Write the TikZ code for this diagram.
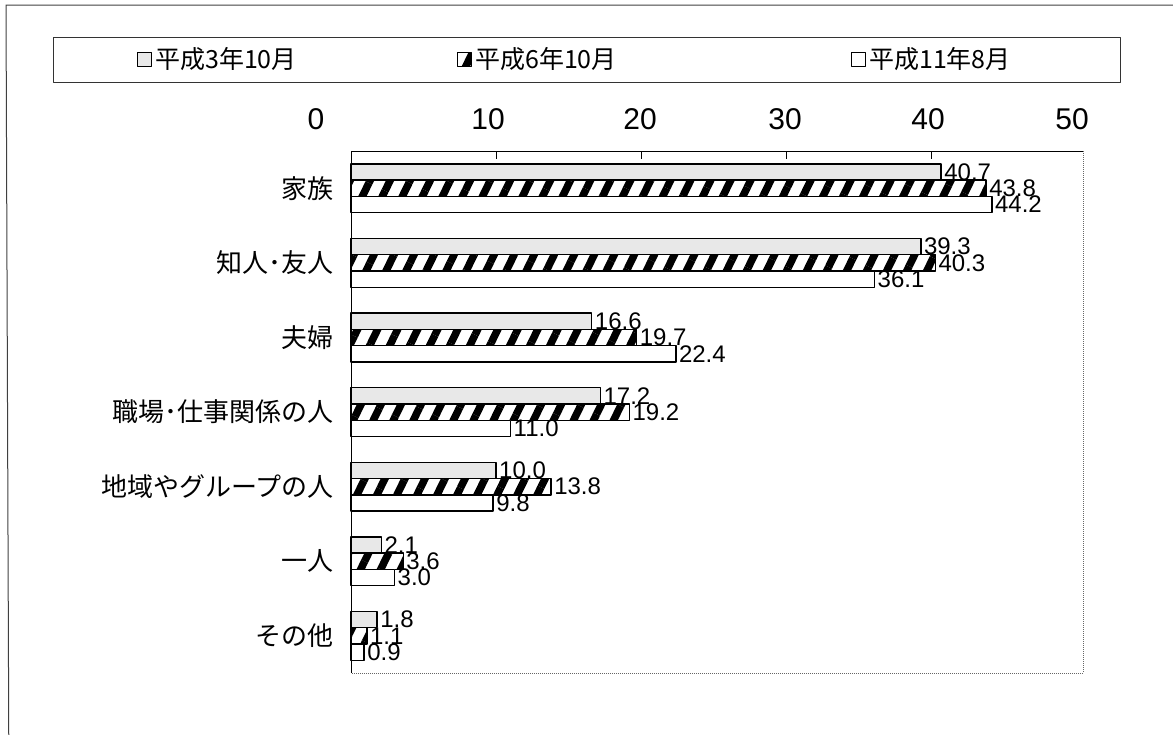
\documentclass[tikz,border=0pt]{standalone}
\usepackage{fontspec}
\setmainfont{Liberation Sans}
\newfontfamily\jpfont{Noto Sans CJK JP}
\usetikzlibrary{patterns.meta}

\tikzset{
  bargray/.style={draw=black, line width=1.4pt, fill=black!9},
  barhatch/.style={draw=black, line width=1.4pt, fill=white,
    postaction={pattern={Lines[angle=64,distance=18pt,line width=7.5pt]}}},
  barwhite/.style={draw=black, line width=1.4pt, fill=white},
  vallabel/.style={anchor=west, inner sep=0pt, xshift=3pt, font=\fontsize{24}{24}\selectfont},
  catlabel/.style={anchor=east, inner sep=0pt, font=\jpfont\fontsize{26}{26}\selectfont},
  ticklabel/.style={inner sep=0pt, font=\fontsize{30}{30}\selectfont},
  legtext/.style={anchor=west, inner sep=0pt, font=\jpfont\fontsize{25}{25}\selectfont},
}

\begin{document}
\begin{tikzpicture}[x=1pt, y=-1pt, line join=round]
  \useasboundingbox (0,0) rectangle (1173,734);
  % outer frame
  \draw[black!75, line width=1pt] (1250,5) -- (6,5) -- (9,800);
  % legend
  \draw[black!80, line width=1pt] (53,37) rectangle (1120,82);
  \draw[bargray, line width=1pt] (137,52) rectangle (151,66);
  \node[legtext] (leg1) at (155,59) {平成3年10月};
  \draw[barhatch, line width=1pt] (457,52) rectangle (471,66);
  \node[legtext] (leg2) at (475,59) {平成6年10月};
  \draw[barwhite, line width=1pt] (851,52) rectangle (865,66);
  \node[legtext] (leg3) at (869,59) {平成11年8月};
  % axis numbers
  \foreach \v/\x in {0/316,10/488,20/640,30/785,40/928,50/1072}
    \node[ticklabel] (t\v) at (\x,119) {\v};
  % plot area
  \draw[line width=1pt] (351,673) -- (351,151) -- (1083,151);
  \draw[black!60, densely dotted, line width=1pt] (1083,151) -- (1083,673) -- (351,673);
  \foreach \v in {10,20,30,40}
    \draw[line width=0.8pt] ({351+14.5*\v},151) -- ({351+14.5*\v},159);
  % bars
  \foreach \a/\b/\c/\name [count=\i from 0] in {
      40.7/43.8/44.2/家族,
      39.3/40.3/36.1/知人･友人,
      16.6/19.7/22.4/夫婦,
      17.2/19.2/11.0/職場･仕事関係の人,
      10.0/13.8/9.8/地域やグループの人,
      2.1/3.6/3.0/一人,
      1.8/1.1/0.9/その他}{
    \pgfmathsetmacro\ytop{151+74.6*\i+12.8}
    \draw[bargray] (351,\ytop) rectangle ({351+14.5*\a},{\ytop+16.3});
    \draw[barhatch] (351,{\ytop+16.3}) rectangle ({351+14.5*\b},{\ytop+32.6});
    \draw[barwhite] (351,{\ytop+32.6}) rectangle ({351+14.5*\c},{\ytop+48.9});
    \node[vallabel] (va\i) at ({351+14.5*\a},{\ytop+8.2}) {\a};
    \node[vallabel] (vb\i) at ({351+14.5*\b},{\ytop+24.5}) {\b};
    \node[vallabel] (vc\i) at ({351+14.5*\c},{\ytop+40.8}) {\c};
    \node[catlabel] (cat\i) at (334,{\ytop+24.5}) {\name};
  }
\end{tikzpicture}
\end{document}
